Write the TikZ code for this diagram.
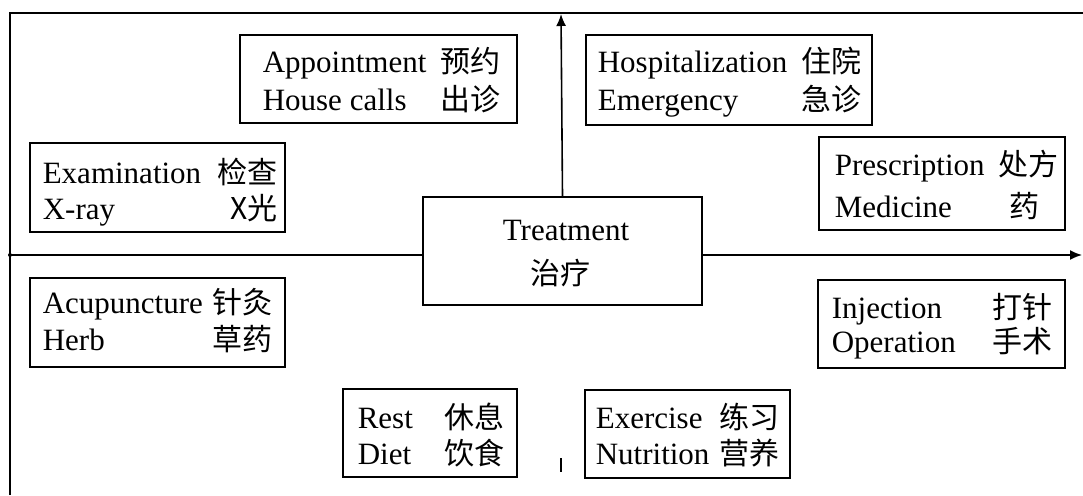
\documentclass[tikz,border=0pt]{standalone}
\usepackage{fontspec}
\setmainfont{Liberation Serif}
\newfontfamily\cjk{Noto Sans CJK SC}
\usetikzlibrary{fit,arrows.meta}

\begin{document}
\begin{tikzpicture}[x=1pt,y=-1pt,
  line width=1.6pt,
  box/.style={draw, rectangle, inner sep=0pt},
  en/.style={anchor=base west, inner sep=0pt, font=\fontsize{31}{36}\selectfont},
  zh/.style={anchor=base east, inner sep=0pt, font=\fontsize{30}{36}\selectfont\cjk},
  ctr/.style={anchor=base, inner sep=0pt, font=\fontsize{31}{36}\selectfont},
  axis/.style={line width=1.6pt},
  tip/.style={-{Latex[length=12pt,width=10pt]}}]
\useasboundingbox (0,0) rectangle (1083,495);

% outer frame (top and left edges)
\coordinate (fTL) at (10,13);
\coordinate (fTR) at (1083,13);
\coordinate (fBL) at (10,495);
\draw (fBL) -- (fTL) -- (fTR);

% centre box
\node[box, fit={(423,197) (702,305)}] (treat) {};
\node[ctr] (treat-en) at (566,240) {Treatment};
\node[ctr, font=\fontsize{30}{36}\selectfont\cjk] (treat-zh) at (560,284) {治疗};

% axes
\coordinate (vTop) at (561,14);
\coordinate (hLeft) at (10,255);
\coordinate (hRight) at (1082,255);
\coordinate (vLowA) at (561,458);
\coordinate (vLowB) at (561,472);
\draw[axis, tip] (treat.north) -- (vTop);
\draw[axis] (hLeft) -- (hLeft -| treat.west);
\draw[axis, tip] (hRight -| treat.east) -- (hRight);
\draw[axis] (vLowA) -- (vLowB);
\fill (hLeft) circle (2pt);

% Appointment / House calls
\node[box, fit={(240,35) (517,123)}] (appt) {};
\node[en] (appt-en1) at (262,72) {Appointment};
\node[zh] (appt-zh1) at (501,72) {预约};
\node[en] (appt-en2) at (262,110) {House calls};
\node[zh] (appt-zh2) at (501,110) {出诊};

% Hospitalization / Emergency
\node[box, fit={(586,35) (872,125)}] (hosp) {};
\node[en] (hosp-en1) at (597,72) {Hospitalization};
\node[zh] (hosp-zh1) at (862,72) {住院};
\node[en] (hosp-en2) at (597,110) {Emergency};
\node[zh] (hosp-zh2) at (862,110) {急诊};

% Examination / X-ray
\node[box, fit={(30,143) (285,232)}] (exam) {};
\node[en] (exam-en1) at (42,183) {Examination};
\node[zh] (exam-zh1) at (278,183) {检查};
\node[en] (exam-en2) at (42,219) {X-ray};
\node[zh] (exam-zh2) at (278,219) {X光};

% Prescription / Medicine
\node[box, fit={(819,137) (1065,230)}] (presc) {};
\node[en] (presc-en1) at (834,175) {Prescription};
\node[zh] (presc-zh1) at (1059,175) {处方};
\node[en] (presc-en2) at (834,217) {Medicine};
\node[zh] (presc-zh2) at (1040,217) {药};

% Acupuncture / Herb
\node[box, fit={(30,278) (285,367)}] (acu) {};
\node[en] (acu-en1) at (42,313) {Acupuncture};
\node[zh] (acu-zh1) at (273,313) {针灸};
\node[en] (acu-en2) at (42,350) {Herb};
\node[zh] (acu-zh2) at (273,350) {草药};

% Injection / Operation
\node[box, fit={(818,280) (1065,368)}] (inj) {};
\node[en] (inj-en1) at (831,318) {Injection};
\node[zh] (inj-zh1) at (1053,318) {打针};
\node[en] (inj-en2) at (831,352) {Operation};
\node[zh] (inj-zh2) at (1053,352) {手术};

% Rest / Diet
\node[box, fit={(343,389) (517,477)}] (rest) {};
\node[en] (rest-en1) at (357,428) {Rest};
\node[zh] (rest-zh1) at (505,428) {休息};
\node[en] (rest-en2) at (357,464) {Diet};
\node[zh] (rest-zh2) at (505,464) {饮食};

% Exercise / Nutrition
\node[box, fit={(585,390) (790,478)}] (exer) {};
\node[en] (exer-en1) at (595,428) {Exercise};
\node[zh] (exer-zh1) at (780,428) {练习};
\node[en] (exer-en2) at (595,464) {Nutrition};
\node[zh] (exer-zh2) at (780,464) {营养};
\end{tikzpicture}
\end{document}
